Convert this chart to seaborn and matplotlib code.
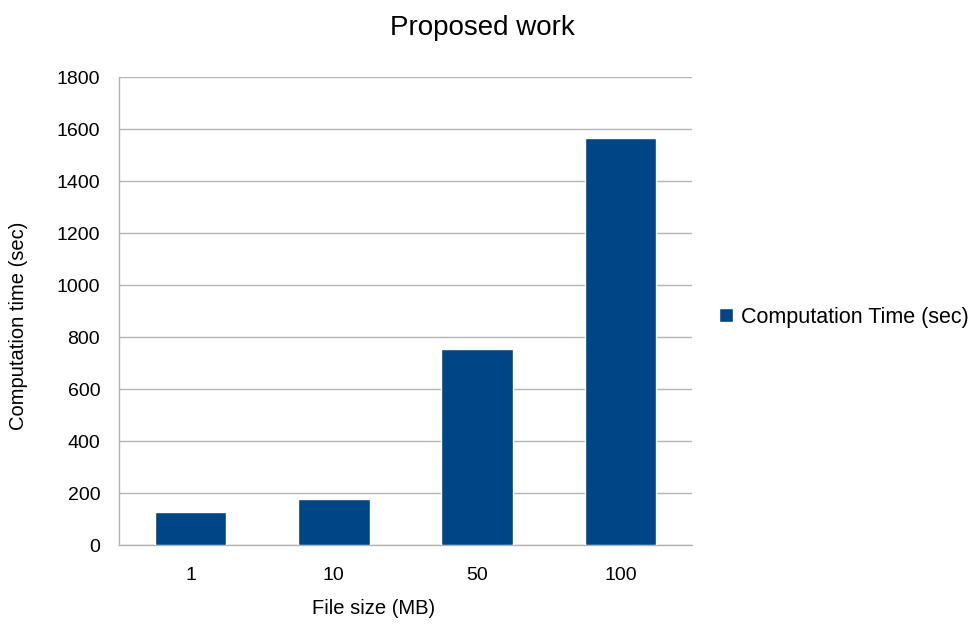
import matplotlib
matplotlib.use("Agg")
import matplotlib.pyplot as plt
import seaborn as sns
import pandas as pd

# values
file_sizes = ["1", "10", "50", "100"]
comp_times = [127, 177, 754, 1565]
series_name = "Computation Time (sec)"

df = pd.DataFrame({"size": file_sizes, "time": comp_times})

sns.set_style("white")
plt.rcParams["font.family"] = ["Liberation Sans", "DejaVu Sans"]
plt.rcParams["text.color"] = "black"
plt.rcParams["axes.labelcolor"] = "black"

W, H = 977, 625
fig = plt.figure(figsize=(W / 100, H / 100), dpi=100)
ax = fig.add_axes([119 / W, 80 / H, (692 - 119) / W, (545 - 77) / H])

sns.barplot(data=df, x="size", y="time", color="#004586", saturation=1,
            width=0.5, label=series_name, ax=ax, zorder=3)

ax.set_ylim(0, 1800)
ax.set_yticks(range(0, 1801, 200))
ax.set_xlim(-0.5, 3.5)
ax.yaxis.grid(True, color="#b3b3b3", linewidth=1, zorder=0)
ax.set_axisbelow(True)

# x ticks sit on category boundaries, labels centred in each category
ax.set_xticks([-0.5, 0.5, 1.5, 2.5, 3.5])
ax.set_xticklabels([])
ax.set_xticks(range(4), minor=True)
ax.set_xticklabels(file_sizes, minor=True)
ax.tick_params(axis="x", which="minor", length=0, pad=16, labelsize=14, labelcolor="black")
ax.tick_params(axis="x", which="major", length=8, color="#b3b3b3", width=1)
ax.tick_params(axis="y", length=7.5, color="#b3b3b3", width=1, labelsize=14,
               pad=6, labelcolor="black")

for s in ["top", "right"]:
    ax.spines[s].set_visible(False)
for s in ["left", "bottom"]:
    ax.spines[s].set_color("#b3b3b3")
    ax.spines[s].set_linewidth(1)

ax.set_xlabel("File size (MB)", fontsize=14.5)
ax.set_ylabel("Computation time (sec)", fontsize=14.5)
ax.xaxis.set_label_coords((374 - 119) / 573, (545 - 599) / 468)
ax.yaxis.set_label_coords((28 - 119) / 573, (545 - 326) / 468)

fig.suptitle("Proposed work", x=482 / W, y=1 - 28 / H, va="center", fontsize=20)

ax.legend(loc="center left", bbox_to_anchor=(719 / W, 1 - 317 / H),
          bbox_transform=fig.transFigure, frameon=False, borderpad=0,
          borderaxespad=0, fontsize=15.5, handlelength=0.65, handleheight=0.65,
          handletextpad=0.35)

fig.savefig("out.png", dpi=100, facecolor="white")
